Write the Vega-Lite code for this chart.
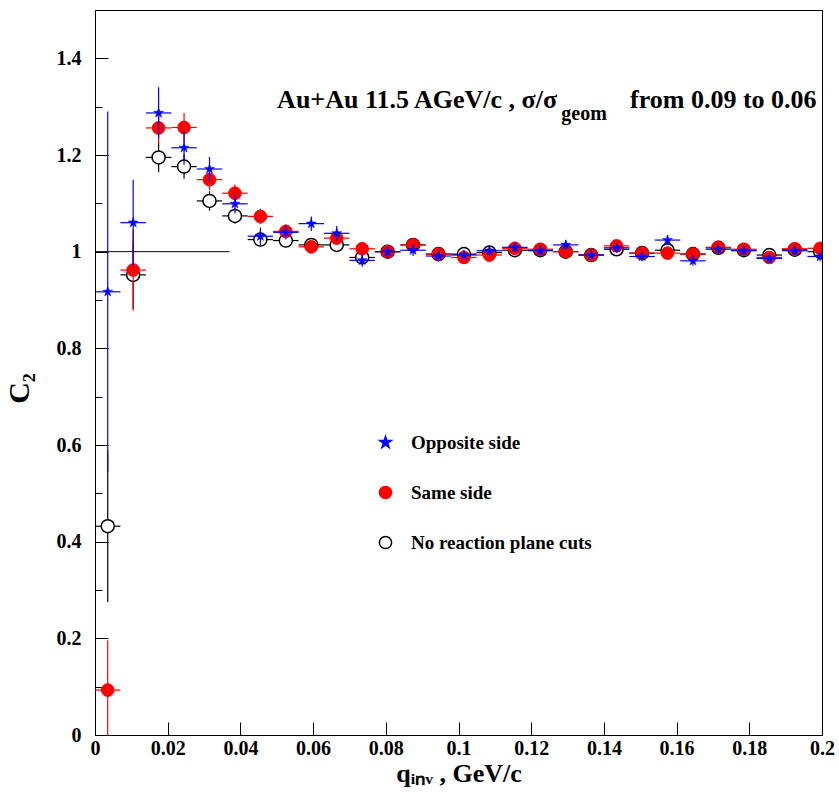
{
 "$schema": "https://vega.github.io/schema/vega-lite/v6.json",
 "width": 727, "height": 725,
 "autosize": {"type": "none"},
 "padding": {"left": 95, "top": 10, "right": 17, "bottom": 62},
 "background": "white",
 "config": {"view": {"stroke": "black", "strokeWidth": 1}, "font": "Liberation Serif"},
 "datasets": {
  "pts": [
   {"s":"No reaction plane cuts","x":0.0035,"y":0.432,"lo":0.275,"hi":0.589,"xl":0.0,"xh":0.007},
   {"s":"No reaction plane cuts","x":0.0105,"y":0.952,"lo":0.882,"hi":1.022,"xl":0.007,"xh":0.014},
   {"s":"No reaction plane cuts","x":0.0175,"y":1.195,"lo":1.165,"hi":1.225,"xl":0.014,"xh":0.021},
   {"s":"No reaction plane cuts","x":0.0245,"y":1.176,"lo":1.151,"hi":1.201,"xl":0.021,"xh":0.028},
   {"s":"No reaction plane cuts","x":0.0315,"y":1.105,"lo":1.085,"hi":1.125,"xl":0.028,"xh":0.035},
   {"s":"No reaction plane cuts","x":0.0385,"y":1.074,"lo":1.058,"hi":1.090,"xl":0.035,"xh":0.042},
   {"s":"No reaction plane cuts","x":0.0455,"y":1.025,"lo":1.011,"hi":1.039,"xl":0.042,"xh":0.049},
   {"s":"No reaction plane cuts","x":0.0525,"y":1.023,"lo":1.011,"hi":1.035,"xl":0.049,"xh":0.056},
   {"s":"No reaction plane cuts","x":0.0595,"y":1.014,"lo":1.004,"hi":1.024,"xl":0.056,"xh":0.063},
   {"s":"No reaction plane cuts","x":0.0665,"y":1.014,"lo":1.004,"hi":1.024,"xl":0.063,"xh":0.070},
   {"s":"No reaction plane cuts","x":0.0735,"y":0.988,"lo":0.978,"hi":0.998,"xl":0.070,"xh":0.077},
   {"s":"No reaction plane cuts","x":0.0805,"y":1.000,"lo":0.992,"hi":1.008,"xl":0.077,"xh":0.084},
   {"s":"No reaction plane cuts","x":0.0875,"y":1.014,"lo":1.006,"hi":1.022,"xl":0.084,"xh":0.091},
   {"s":"No reaction plane cuts","x":0.0945,"y":0.995,"lo":0.987,"hi":1.003,"xl":0.091,"xh":0.098},
   {"s":"No reaction plane cuts","x":0.1015,"y":0.995,"lo":0.987,"hi":1.003,"xl":0.098,"xh":0.105},
   {"s":"No reaction plane cuts","x":0.1085,"y":0.998,"lo":0.990,"hi":1.006,"xl":0.105,"xh":0.112},
   {"s":"No reaction plane cuts","x":0.1155,"y":1.003,"lo":0.995,"hi":1.011,"xl":0.112,"xh":0.119},
   {"s":"No reaction plane cuts","x":0.1225,"y":1.003,"lo":0.995,"hi":1.011,"xl":0.119,"xh":0.126},
   {"s":"No reaction plane cuts","x":0.1295,"y":1.000,"lo":0.992,"hi":1.008,"xl":0.126,"xh":0.133},
   {"s":"No reaction plane cuts","x":0.1365,"y":0.993,"lo":0.985,"hi":1.001,"xl":0.133,"xh":0.140},
   {"s":"No reaction plane cuts","x":0.1435,"y":1.005,"lo":0.997,"hi":1.013,"xl":0.140,"xh":0.147},
   {"s":"No reaction plane cuts","x":0.1505,"y":0.997,"lo":0.989,"hi":1.005,"xl":0.147,"xh":0.154},
   {"s":"No reaction plane cuts","x":0.1575,"y":1.003,"lo":0.995,"hi":1.011,"xl":0.154,"xh":0.161},
   {"s":"No reaction plane cuts","x":0.1645,"y":0.995,"lo":0.987,"hi":1.003,"xl":0.161,"xh":0.168},
   {"s":"No reaction plane cuts","x":0.1715,"y":1.008,"lo":1.000,"hi":1.016,"xl":0.168,"xh":0.175},
   {"s":"No reaction plane cuts","x":0.1785,"y":1.003,"lo":0.995,"hi":1.011,"xl":0.175,"xh":0.182},
   {"s":"No reaction plane cuts","x":0.1855,"y":0.993,"lo":0.985,"hi":1.001,"xl":0.182,"xh":0.189},
   {"s":"No reaction plane cuts","x":0.1925,"y":1.004,"lo":0.996,"hi":1.012,"xl":0.189,"xh":0.196},
   {"s":"No reaction plane cuts","x":0.1995,"y":1.000,"lo":0.992,"hi":1.008,"xl":0.196,"xh":0.203},
   {"s":"Same side","x":0.0035,"y":0.093,"lo":-0.010,"hi":0.196,"xl":0.0,"xh":0.007},
   {"s":"Same side","x":0.0105,"y":0.962,"lo":0.878,"hi":1.046,"xl":0.007,"xh":0.014},
   {"s":"Same side","x":0.0175,"y":1.256,"lo":1.223,"hi":1.289,"xl":0.014,"xh":0.021},
   {"s":"Same side","x":0.0245,"y":1.257,"lo":1.227,"hi":1.287,"xl":0.021,"xh":0.028},
   {"s":"Same side","x":0.0315,"y":1.149,"lo":1.127,"hi":1.171,"xl":0.028,"xh":0.035},
   {"s":"Same side","x":0.0385,"y":1.121,"lo":1.103,"hi":1.139,"xl":0.035,"xh":0.042},
   {"s":"Same side","x":0.0455,"y":1.073,"lo":1.057,"hi":1.089,"xl":0.042,"xh":0.049},
   {"s":"Same side","x":0.0525,"y":1.042,"lo":1.028,"hi":1.056,"xl":0.049,"xh":0.056},
   {"s":"Same side","x":0.0595,"y":1.010,"lo":0.998,"hi":1.022,"xl":0.056,"xh":0.063},
   {"s":"Same side","x":0.0665,"y":1.028,"lo":1.016,"hi":1.040,"xl":0.063,"xh":0.070},
   {"s":"Same side","x":0.0735,"y":1.006,"lo":0.996,"hi":1.016,"xl":0.070,"xh":0.077},
   {"s":"Same side","x":0.0805,"y":1.000,"lo":0.990,"hi":1.010,"xl":0.077,"xh":0.084},
   {"s":"Same side","x":0.0875,"y":1.014,"lo":1.004,"hi":1.024,"xl":0.084,"xh":0.091},
   {"s":"Same side","x":0.0945,"y":0.995,"lo":0.985,"hi":1.005,"xl":0.091,"xh":0.098},
   {"s":"Same side","x":0.1015,"y":0.988,"lo":0.978,"hi":0.998,"xl":0.098,"xh":0.105},
   {"s":"Same side","x":0.1085,"y":0.993,"lo":0.983,"hi":1.003,"xl":0.105,"xh":0.112},
   {"s":"Same side","x":0.1155,"y":1.007,"lo":0.997,"hi":1.017,"xl":0.112,"xh":0.119},
   {"s":"Same side","x":0.1225,"y":1.005,"lo":0.995,"hi":1.015,"xl":0.119,"xh":0.126},
   {"s":"Same side","x":0.1295,"y":1.000,"lo":0.990,"hi":1.010,"xl":0.126,"xh":0.133},
   {"s":"Same side","x":0.1365,"y":0.993,"lo":0.983,"hi":1.003,"xl":0.133,"xh":0.140},
   {"s":"Same side","x":0.1435,"y":1.012,"lo":1.002,"hi":1.022,"xl":0.140,"xh":0.147},
   {"s":"Same side","x":0.1505,"y":0.997,"lo":0.987,"hi":1.007,"xl":0.147,"xh":0.154},
   {"s":"Same side","x":0.1575,"y":0.997,"lo":0.987,"hi":1.007,"xl":0.154,"xh":0.161},
   {"s":"Same side","x":0.1645,"y":0.995,"lo":0.985,"hi":1.005,"xl":0.161,"xh":0.168},
   {"s":"Same side","x":0.1715,"y":1.009,"lo":0.999,"hi":1.019,"xl":0.168,"xh":0.175},
   {"s":"Same side","x":0.1785,"y":1.005,"lo":0.995,"hi":1.015,"xl":0.175,"xh":0.182},
   {"s":"Same side","x":0.1855,"y":0.988,"lo":0.978,"hi":0.998,"xl":0.182,"xh":0.189},
   {"s":"Same side","x":0.1925,"y":1.006,"lo":0.996,"hi":1.016,"xl":0.189,"xh":0.196},
   {"s":"Same side","x":0.1995,"y":1.007,"lo":0.997,"hi":1.017,"xl":0.196,"xh":0.203},
   {"s":"Opposite side","x":0.0035,"y":0.917,"lo":0.544,"hi":1.290,"xl":0.0,"xh":0.007},
   {"s":"Opposite side","x":0.0105,"y":1.060,"lo":0.971,"hi":1.149,"xl":0.007,"xh":0.014},
   {"s":"Opposite side","x":0.0175,"y":1.287,"lo":1.234,"hi":1.340,"xl":0.014,"xh":0.021},
   {"s":"Opposite side","x":0.0245,"y":1.215,"lo":1.180,"hi":1.250,"xl":0.021,"xh":0.028},
   {"s":"Opposite side","x":0.0315,"y":1.171,"lo":1.146,"hi":1.196,"xl":0.028,"xh":0.035},
   {"s":"Opposite side","x":0.0385,"y":1.099,"lo":1.079,"hi":1.119,"xl":0.035,"xh":0.042},
   {"s":"Opposite side","x":0.0455,"y":1.032,"lo":1.014,"hi":1.050,"xl":0.042,"xh":0.049},
   {"s":"Opposite side","x":0.0525,"y":1.040,"lo":1.025,"hi":1.055,"xl":0.049,"xh":0.056},
   {"s":"Opposite side","x":0.0595,"y":1.058,"lo":1.043,"hi":1.073,"xl":0.056,"xh":0.063},
   {"s":"Opposite side","x":0.0665,"y":1.038,"lo":1.023,"hi":1.053,"xl":0.063,"xh":0.070},
   {"s":"Opposite side","x":0.0735,"y":0.982,"lo":0.969,"hi":0.995,"xl":0.070,"xh":0.077},
   {"s":"Opposite side","x":0.0805,"y":1.000,"lo":0.988,"hi":1.012,"xl":0.077,"xh":0.084},
   {"s":"Opposite side","x":0.0875,"y":1.003,"lo":0.991,"hi":1.015,"xl":0.084,"xh":0.091},
   {"s":"Opposite side","x":0.0945,"y":0.991,"lo":0.979,"hi":1.003,"xl":0.091,"xh":0.098},
   {"s":"Opposite side","x":0.1015,"y":0.993,"lo":0.983,"hi":1.003,"xl":0.098,"xh":0.105},
   {"s":"Opposite side","x":0.1085,"y":1.002,"lo":0.992,"hi":1.012,"xl":0.105,"xh":0.112},
   {"s":"Opposite side","x":0.1155,"y":1.009,"lo":0.999,"hi":1.019,"xl":0.112,"xh":0.119},
   {"s":"Opposite side","x":0.1225,"y":1.002,"lo":0.992,"hi":1.012,"xl":0.119,"xh":0.126},
   {"s":"Opposite side","x":0.1295,"y":1.014,"lo":1.004,"hi":1.024,"xl":0.126,"xh":0.133},
   {"s":"Opposite side","x":0.1365,"y":0.993,"lo":0.983,"hi":1.003,"xl":0.133,"xh":0.140},
   {"s":"Opposite side","x":0.1435,"y":1.008,"lo":0.998,"hi":1.018,"xl":0.140,"xh":0.147},
   {"s":"Opposite side","x":0.1505,"y":0.990,"lo":0.980,"hi":1.000,"xl":0.147,"xh":0.154},
   {"s":"Opposite side","x":0.1575,"y":1.024,"lo":1.014,"hi":1.034,"xl":0.154,"xh":0.161},
   {"s":"Opposite side","x":0.1645,"y":0.981,"lo":0.971,"hi":0.991,"xl":0.161,"xh":0.168},
   {"s":"Opposite side","x":0.1715,"y":1.005,"lo":0.995,"hi":1.015,"xl":0.168,"xh":0.175},
   {"s":"Opposite side","x":0.1785,"y":1.002,"lo":0.992,"hi":1.012,"xl":0.175,"xh":0.182},
   {"s":"Opposite side","x":0.1855,"y":0.986,"lo":0.976,"hi":0.996,"xl":0.182,"xh":0.189},
   {"s":"Opposite side","x":0.1925,"y":1.002,"lo":0.992,"hi":1.012,"xl":0.189,"xh":0.196},
   {"s":"Opposite side","x":0.1995,"y":0.990,"lo":0.980,"hi":1.000,"xl":0.196,"xh":0.203}
  ]
 },
 "layer": [
  {
   "data": {"values": [{"x0": 0, "x1": 0.037, "y": 1}]},
   "mark": {"type": "rule", "color": "black", "strokeWidth": 1},
   "encoding": {
    "x": {"field": "x0", "type": "quantitative",
      "scale": {"domain": [0, 0.2], "nice": false, "zero": false},
      "axis": {
        "title": "qᵢₙᵥ , GeV/c",
        "values": [0,0.005,0.01,0.015,0.02,0.025,0.03,0.035,0.04,0.045,0.05,0.055,0.06,0.065,0.07,0.075,0.08,0.085,0.09,0.095,0.1,0.105,0.11,0.115,0.12,0.125,0.13,0.135,0.14,0.145,0.15,0.155,0.16,0.165,0.17,0.175,0.18,0.185,0.19,0.195,0.2],
        "labelExpr": "abs(round(datum.value*50) - datum.value*50) < 0.001 ? format(datum.value, '~g') : ''",
        "tickSize": {"condition": {"test": "abs(round(datum.value*50) - datum.value*50) < 0.001", "value": -13}, "value": -7},
        "tickColor": "black", "domainColor": "black", "grid": false,
        "labelFont": "Liberation Serif", "labelFontWeight": "bold", "labelFontSize": 20, "labelColor": "black",
        "labelPadding": 16, "labelFlush": false, "labelOverlap": false, "labelBound": false,
        "titleFont": "Liberation Serif", "titleFontWeight": "bold", "titleFontSize": 26, "titleColor": "black", "titlePadding": 2
      }},
    "x2": {"field": "x1"},
    "y": {"field": "y", "type": "quantitative",
      "scale": {"domain": [0, 1.5], "nice": false, "zero": false},
      "axis": {
        "title": "C₂",
        "values": [0,0.05,0.1,0.15,0.2,0.25,0.3,0.35,0.4,0.45,0.5,0.55,0.6,0.65,0.7,0.75,0.8,0.85,0.9,0.95,1,1.05,1.1,1.15,1.2,1.25,1.3,1.35,1.4,1.45],
        "labelExpr": "abs(round(datum.value*5) - datum.value*5) < 0.001 ? format(datum.value, '~g') : ''",
        "tickSize": {"condition": {"test": "abs(round(datum.value*5) - datum.value*5) < 0.001", "value": -13}, "value": -7},
        "tickColor": "black", "domainColor": "black", "grid": false,
        "labelFont": "Liberation Serif", "labelFontWeight": "bold", "labelFontSize": 20, "labelColor": "black",
        "labelPadding": 27, "labelFlush": false, "labelOverlap": false, "labelBound": false,
        "titleFont": "Liberation Serif", "titleFontWeight": "bold", "titleFontSize": 30, "titleColor": "black", "titlePadding": 22, "titleY": 378
      }}
   }
  },
  {
   "data": {"name": "pts"},
   "transform": [{"filter": "datum.s == 'No reaction plane cuts'"}],
   "layer": [
    {"mark": {"type": "rule", "color": "black", "strokeWidth": 1.2, "clip": true},
     "encoding": {"x": {"field": "x", "type": "quantitative"}, "y": {"field": "lo", "type": "quantitative"}, "y2": {"field": "hi"}}},
    {"mark": {"type": "rule", "color": "black", "strokeWidth": 1.2, "clip": true},
     "encoding": {"x": {"field": "xl", "type": "quantitative"}, "x2": {"field": "xh"}, "y": {"field": "y", "type": "quantitative"}}}
   ]
  },
  {
   "data": {"name": "pts"},
   "transform": [{"filter": "datum.s == 'No reaction plane cuts'"}],
   "mark": {"type": "point", "size": 170, "strokeWidth": 1.5, "opacity": 1, "clip": true},
   "encoding": {
    "x": {"field": "x", "type": "quantitative"},
    "y": {"field": "y", "type": "quantitative"},
    "shape": {"field": "s", "type": "nominal",
      "scale": {"domain": ["Opposite side", "Same side", "No reaction plane cuts"], "range": ["M0,-1L0.2245,-0.309L0.951,-0.309L0.363,0.118L0.588,0.809L0,0.382L-0.588,0.809L-0.363,0.118L-0.951,-0.309L-0.2245,-0.309Z", "circle", "circle"]},
      "legend": {"title": null, "orient": "none", "legendX": 281, "legendY": 423, "padding": 0,
        "labelFont": "Liberation Serif", "labelFontWeight": "bold", "labelFontSize": 19, "labelColor": "black", "labelLimit": 400,
        "labelOffset": 16, "rowPadding": 30, "symbolSize": 150, "symbolStrokeWidth": 1.5}},
    "fill": {"field": "s", "type": "nominal",
      "scale": {"domain": ["Opposite side", "Same side", "No reaction plane cuts"], "range": ["#0000ff", "#ff0000", "#ffffff"]}},
    "stroke": {"field": "s", "type": "nominal",
      "scale": {"domain": ["Opposite side", "Same side", "No reaction plane cuts"], "range": ["#0000ff", "#ff0000", "#000000"]}}
   }
  },
  {
   "data": {"name": "pts"},
   "transform": [{"filter": "datum.s == 'Same side'"}],
   "layer": [
    {"mark": {"type": "rule", "color": "#ff0000", "strokeWidth": 1.2, "clip": true},
     "encoding": {"x": {"field": "x", "type": "quantitative"}, "y": {"field": "lo", "type": "quantitative"}, "y2": {"field": "hi"}}},
    {"mark": {"type": "rule", "color": "#ff0000", "strokeWidth": 1.2, "clip": true},
     "encoding": {"x": {"field": "xl", "type": "quantitative"}, "x2": {"field": "xh"}, "y": {"field": "y", "type": "quantitative"}}}
   ]
  },
  {
   "data": {"name": "pts"},
   "transform": [{"filter": "datum.s == 'Same side'"}],
   "mark": {"type": "point", "size": 160, "strokeWidth": 1, "opacity": 1, "clip": true},
   "encoding": {
    "x": {"field": "x", "type": "quantitative"},
    "y": {"field": "y", "type": "quantitative"},
    "shape": {"field": "s", "type": "nominal"},
    "fill": {"field": "s", "type": "nominal"},
    "stroke": {"field": "s", "type": "nominal"}
   }
  },
  {
   "data": {"name": "pts"},
   "transform": [{"filter": "datum.s == 'Opposite side'"}],
   "layer": [
    {"mark": {"type": "rule", "color": "#0000ff", "strokeWidth": 1.2, "clip": true},
     "encoding": {"x": {"field": "x", "type": "quantitative"}, "y": {"field": "lo", "type": "quantitative"}, "y2": {"field": "hi"}}},
    {"mark": {"type": "rule", "color": "#0000ff", "strokeWidth": 1.2, "clip": true},
     "encoding": {"x": {"field": "xl", "type": "quantitative"}, "x2": {"field": "xh"}, "y": {"field": "y", "type": "quantitative"}}}
   ]
  },
  {
   "data": {"name": "pts"},
   "transform": [{"filter": "datum.s == 'Opposite side'"}],
   "mark": {"type": "point", "size": 110, "strokeWidth": 0.5, "opacity": 1, "clip": true},
   "encoding": {
    "x": {"field": "x", "type": "quantitative"},
    "y": {"field": "y", "type": "quantitative"},
    "shape": {"field": "s", "type": "nominal"},
    "fill": {"field": "s", "type": "nominal"},
    "stroke": {"field": "s", "type": "nominal"}
   }
  },
  {
   "data": {"values": [{"t": "Au+Au 11.5 AGeV/c , σ/σ", "x": 0.0501, "y": 1.2975}]},
   "mark": {"type": "text", "font": "Liberation Serif", "fontWeight": "bold", "fontSize": 26, "align": "left", "baseline": "alphabetic", "color": "black"},
   "encoding": {"x": {"field": "x", "type": "quantitative"}, "y": {"field": "y", "type": "quantitative"}, "text": {"field": "t"}}
  },
  {
   "data": {"values": [{"t": "geom", "x": 0.1283, "y": 1.273}]},
   "mark": {"type": "text", "font": "Liberation Serif", "fontWeight": "bold", "fontSize": 20, "align": "left", "baseline": "alphabetic", "color": "black"},
   "encoding": {"x": {"field": "x", "type": "quantitative"}, "y": {"field": "y", "type": "quantitative"}, "text": {"field": "t"}}
  },
  {
   "data": {"values": [{"t": "from 0.09 to 0.06", "x": 0.1985, "y": 1.2975}]},
   "mark": {"type": "text", "font": "Liberation Serif", "fontWeight": "bold", "fontSize": 26, "align": "right", "baseline": "alphabetic", "color": "black"},
   "encoding": {"x": {"field": "x", "type": "quantitative"}, "y": {"field": "y", "type": "quantitative"}, "text": {"field": "t"}}
  }
 ]
}
